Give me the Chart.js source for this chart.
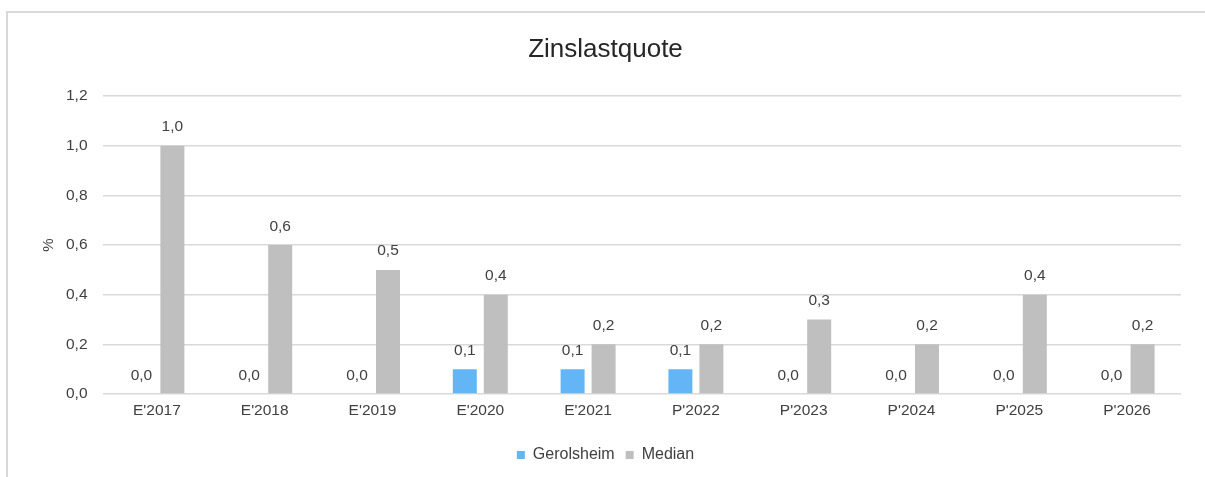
<!DOCTYPE html>
<html>
<head>
<meta charset="utf-8">
<script src="https://cdn.jsdelivr.net/npm/chart.js@4/dist/chart.umd.min.js"></script>
<style>
  html, body { margin: 0; padding: 0; background: #ffffff; }
  #wrap { position: relative; width: 1205px; height: 477px; }
</style>
</head>
<body>
<div id="wrap"><canvas id="c" width="1205" height="477"></canvas></div>
<script>
const categories = ["E'2017", "E'2018", "E'2019", "E'2020", "E'2021", "P'2022", "P'2023", "P'2024", "P'2025", "P'2026"];
const gerolsheim = [0.0, 0.0, 0.0, 0.1, 0.1, 0.1, 0.0, 0.0, 0.0, 0.0];
const median = [1.0, 0.6, 0.5, 0.4, 0.2, 0.2, 0.3, 0.2, 0.4, 0.2];
const yTicks = [0.0, 0.2, 0.4, 0.6, 0.8, 1.0, 1.2];

const FONT = "'Liberation Sans', Arial, sans-serif";
const fmt = v => v.toFixed(1).replace('.', ',');

const framePlugin = {
  id: 'frame',
  beforeDraw(chart) {
    const ctx = chart.ctx;
    ctx.save();
    ctx.strokeStyle = '#d9d9d9';
    ctx.lineWidth = 2;
    ctx.strokeRect(7, 12, 2000, 2000);
    ctx.restore();
  }
};

const labelPlugin = {
  id: 'valueLabels',
  afterDatasetsDraw(chart) {
    const ctx = chart.ctx;
    ctx.save();
    ctx.font = '15.5px ' + FONT;
    ctx.fillStyle = '#404040';
    ctx.textAlign = 'center';
    ctx.textBaseline = 'alphabetic';
    chart.data.datasets.forEach((ds, di) => {
      const meta = chart.getDatasetMeta(di);
      meta.data.forEach((bar, i) => {
        ctx.fillText(fmt(ds.data[i]), bar.x, bar.y - 14.5);
      });
    });
    ctx.restore();
  }
};

new Chart(document.getElementById('c'), {
  type: 'bar',
  data: {
    labels: categories,
    datasets: [
      { label: 'Gerolsheim', data: gerolsheim, backgroundColor: '#64B5F6', borderWidth: 0,
        categoryPercentage: 0.575, barPercentage: 0.774 },
      { label: 'Median', data: median, backgroundColor: '#BFBFBF', borderWidth: 0,
        categoryPercentage: 0.575, barPercentage: 0.774 }
    ]
  },
  options: {
    responsive: false,
    animation: false,
    devicePixelRatio: 1,
    layout: { padding: { top: 12, left: 30, right: 24, bottom: 4 } },
    plugins: {
      title: {
        display: true,
        text: 'Zinslastquote',
        color: '#262626',
        font: { family: FONT, size: 26, weight: 'normal' },
        padding: { top: 22, bottom: 31 }
      },
      legend: {
        position: 'bottom',
        labels: {
          color: '#404040',
          font: { family: FONT, size: 16 },
          boxWidth: 8,
          boxHeight: 8,
          padding: 11
        }
      },
      tooltip: { enabled: false }
    },
    scales: {
      x: {
        grid: { display: false, drawTicks: false },
        border: { display: false },
        ticks: { color: '#404040', font: { family: FONT, size: 15.5 }, padding: 7, maxRotation: 0 },
        afterFit(scale) { scale.height = 42; }
      },
      y: {
        min: 0,
        max: 1.2,
        afterBuildTicks(scale) { scale.ticks = yTicks.map(v => ({ value: v })); },
        grid: { color: '#d9d9d9', lineWidth: 1.5, drawTicks: false },
        border: { display: false },
        ticks: { color: '#404040', font: { family: FONT, size: 15.5 }, padding: 15.5,
                 callback: v => fmt(v) },
        title: { display: true, text: '%', color: '#404040',
                 font: { family: FONT, size: 15 }, padding: { top: 10, bottom: 0 } },
        afterFit(scale) { scale.width = 73; }
      }
    }
  },
  plugins: [framePlugin, labelPlugin]
});
</script>
</body>
</html>
